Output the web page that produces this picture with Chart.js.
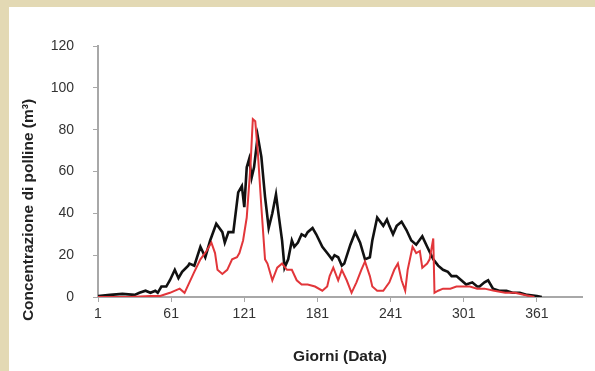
<!DOCTYPE html>
<html>
<head>
<meta charset="utf-8">
<script src="https://cdn.jsdelivr.net/npm/chart.js@4.4.1/dist/chart.umd.min.js"></script>
<style>
    html, body { margin: 0; padding: 0; background: #e3d9b4; }
    #wrap { position: absolute; left: 9px; top: 7px; width: 586px; height: 364px; background: #fff; }
</style>
</head>
<body>
<div id="wrap"><canvas id="pollenChart" width="586" height="364"></canvas></div>
<script>
    "use strict";

    // serie nera (giorno, concentrazione)
    var blackDays = [1, 11, 21, 31, 35, 40, 44, 48, 50, 53, 57, 60, 64, 67, 70, 75, 76, 80, 85, 89,
        93, 98, 103, 105, 108, 112, 116, 119, 121, 123, 125, 127, 129, 132, 135, 138, 141, 144, 147, 149,
        152, 154, 157, 160, 162, 165, 168, 171, 173, 177, 180, 185, 189, 193, 195, 198, 201, 203, 208, 212,
        216, 220, 224, 226, 230, 235, 238, 240, 243, 246, 250, 254, 258, 262, 267, 271, 276, 280, 284, 288,
        291, 295, 299, 303, 308, 312, 314, 318, 321, 325, 330, 336, 341, 347, 353, 361, 365];
    var blackValues = [0.5, 1, 1.5, 1, 2, 3, 2, 3, 2, 5, 5, 8, 13, 9, 12, 15, 16, 15, 24, 19,
        27, 35, 31, 26, 31, 31, 50, 53, 43, 62, 66, 57, 62, 77, 67, 48, 33, 40, 49, 40,
        27, 14, 18, 27, 24, 26, 30, 29, 31, 33, 30, 24, 21, 18, 20, 19, 15, 16, 25, 31,
        26, 18, 19, 27, 38, 34, 37, 34, 30, 34, 36, 32, 27, 25, 29, 24, 18, 15, 13, 12,
        10, 10, 8, 6, 7, 5, 5, 7, 8, 4, 3, 3, 2, 2, 1, 0.5, 0];

    // serie rossa
    var redDays = [1, 27, 44, 52, 60, 68, 72, 76, 80, 85, 90, 94, 97, 99, 103, 107, 111, 115, 117, 120,
        123, 126, 128, 130, 132, 135, 138, 140, 144, 148, 152, 156, 160, 164, 168, 173, 179, 185, 189, 191,
        194, 198, 201, 205, 209, 213, 217, 220, 224, 226, 230, 235, 240, 244, 247, 250, 253, 255, 259, 262,
        265, 267, 271, 273, 276, 277, 280, 284, 290, 295, 300, 306, 312, 318, 326, 335, 343, 351, 359];
    var redValues = [0, 0, 0.5, 0.5, 2, 4, 2, 7, 12, 18, 22, 26, 21, 13, 11, 13, 18, 19, 21, 27,
        38, 62, 85, 84, 70, 43, 18, 16, 8, 14, 16, 13, 13, 8, 6, 6, 5, 3, 5, 10,
        14, 8, 13, 8, 2, 7, 13, 17, 10, 5, 3, 3, 7, 13, 16, 8, 3, 13, 24, 21,
        22, 14, 16, 18, 28, 2, 3, 4, 4, 5, 5, 5, 4, 4, 3, 2, 2, 1, 0];

    var xTickValues = [1, 61, 121, 181, 241, 301, 361];
    var yTickValues = [0, 20, 40, 60, 80, 100, 120];

    var fontFamily = '"Liberation Sans", Arial, sans-serif';

    function toPoints(days, values) {
        return days.map(function (d, i) { return { x: d, y: values[i] }; });
    }

    // titolo asse y disegnato a mano per posizionarlo come nell'originale
    var yTitlePlugin = {
        id: 'yTitle',
        afterDraw: function (chart) {
            var ctx = chart.ctx;
            ctx.save();
            ctx.translate(20, 203);
            ctx.rotate(-Math.PI / 2);
            ctx.font = 'bold 15.5px ' + fontFamily;
            ctx.fillStyle = '#222';
            ctx.textAlign = 'center';
            ctx.textBaseline = 'middle';
            ctx.fillText('Concentrazione di polline (m³)', 0, 0);
            ctx.restore();
        }
    };

    var tickFont = { family: fontFamily, size: 14 };

    new Chart(document.getElementById('pollenChart').getContext('2d'), {
        type: 'line',
        data: {
            datasets: [{
                label: 'rosso',
                data: toPoints(redDays, redValues),
                borderColor: '#e2363a',
                borderWidth: 2,
                pointRadius: 0,
                tension: 0
            }, {
                label: 'nero',
                data: toPoints(blackDays, blackValues),
                borderColor: '#111',
                borderWidth: 2.6,
                pointRadius: 0,
                tension: 0
            }]
        },
        options: {
            responsive: false,
            animation: false,
            layout: { padding: { left: 0, top: 39, right: 13, bottom: 0 } },
            plugins: { legend: { display: false }, tooltip: { enabled: false } },
            scales: {
                x: {
                    type: 'linear',
                    min: 1,
                    max: 398,
                    afterBuildTicks: function (axis) {
                        axis.ticks = xTickValues.map(function (v) { return { value: v }; });
                    },
                    afterFit: function (axis) { axis.height = 74; },
                    border: { display: true, color: '#a8a8a8', width: 2 },
                    grid: { drawOnChartArea: false, drawTicks: true, tickLength: 5, color: '#a8a8a8' },
                    ticks: { font: tickFont, color: '#333', padding: 4, maxRotation: 0, autoSkip: false },
                    title: {
                        display: true,
                        text: 'Giorni (Data)',
                        font: { family: fontFamily, size: 15.5, weight: 'bold' },
                        color: '#222',
                        padding: { top: 0, bottom: 5 }
                    }
                },
                y: {
                    min: 0,
                    max: 120,
                    afterBuildTicks: function (axis) {
                        axis.ticks = yTickValues.map(function (v) { return { value: v }; });
                    },
                    afterFit: function (axis) { axis.width = 89; },
                    border: { display: true, color: '#a8a8a8', width: 2 },
                    grid: { drawOnChartArea: false, drawTicks: true, tickLength: 5, color: '#a8a8a8' },
                    ticks: { font: tickFont, color: '#333', padding: 19 }
                }
            }
        },
        plugins: [yTitlePlugin]
    });
</script>
</body>
</html>
